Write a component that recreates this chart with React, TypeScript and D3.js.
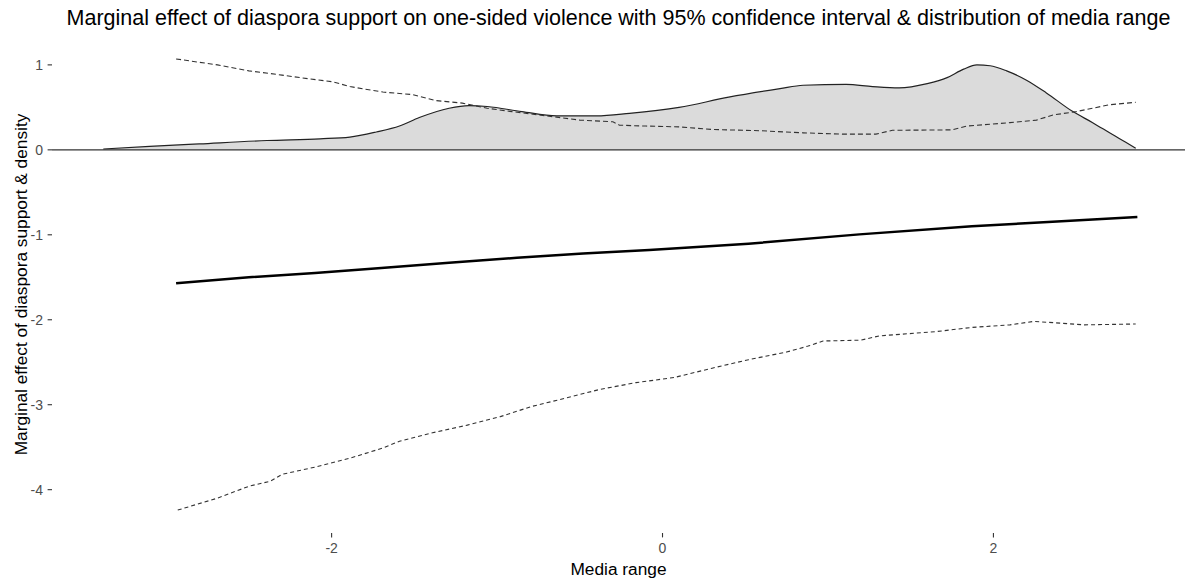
import React from "react";
import * as d3 from "d3";

// Density of media range (scaled so max = 1)
const densityX = [-3.38, -3.10, -2.80, -2.39, -2.07, -1.89, -1.73, -1.59, -1.47, -1.29, -1.17, -1.06, -0.85, -0.64, -0.40, -0.20, 0.10, 0.40, 0.71, 0.85, 1.11, 1.27, 1.43, 1.60, 1.72, 1.82, 1.90, 1.98, 2.08, 2.20, 2.32, 2.48, 2.60, 2.72, 2.80, 2.86];
const densityY = [0.01, 0.04, 0.07, 0.11, 0.13, 0.15, 0.21, 0.28, 0.38, 0.49, 0.52, 0.51, 0.45, 0.40, 0.40, 0.43, 0.50, 0.62, 0.72, 0.76, 0.77, 0.745, 0.73, 0.78, 0.85, 0.95, 1.0, 0.99, 0.93, 0.82, 0.67, 0.45, 0.32, 0.18, 0.09, 0.02];

// Marginal effect (mean)
const meanX = [-2.94, -2.50, -2.10, -1.70, -1.29, -0.88, -0.48, -0.08, 0.52, 1.19, 1.87, 2.33, 2.87];
const meanY = [-1.57, -1.50, -1.45, -1.39, -1.33, -1.27, -1.22, -1.18, -1.105, -0.995, -0.90, -0.85, -0.79];

// Upper 95% CI
const upperX = [-2.94, -2.69, -2.50, -2.30, -2.19, -1.99, -1.89, -1.69, -1.51, -1.37, -1.21, -1.06, -0.91, -0.64, -0.50, -0.30, -0.26, -0.10, 0.10, 0.30, 0.59, 0.85, 1.09, 1.29, 1.39, 1.75, 1.84, 2.10, 2.26, 2.36, 2.50, 2.70, 2.86];
const upperY = [1.07, 1.00, 0.93, 0.88, 0.85, 0.80, 0.745, 0.68, 0.65, 0.58, 0.55, 0.49, 0.45, 0.385, 0.35, 0.33, 0.29, 0.28, 0.27, 0.24, 0.225, 0.20, 0.185, 0.185, 0.23, 0.235, 0.28, 0.32, 0.35, 0.41, 0.45, 0.53, 0.56];

// Lower 95% CI
const lowerX = [-2.93, -2.69, -2.50, -2.37, -2.30, -2.09, -1.89, -1.69, -1.59, -1.39, -1.18, -0.98, -0.79, -0.58, -0.38, -0.16, 0.07, 0.30, 0.52, 0.75, 0.88, 0.97, 1.20, 1.31, 1.65, 1.87, 2.10, 2.24, 2.33, 2.55, 2.86];
const lowerY = [-4.24, -4.10, -3.96, -3.90, -3.82, -3.73, -3.63, -3.51, -3.43, -3.33, -3.24, -3.14, -3.02, -2.92, -2.82, -2.74, -2.68, -2.57, -2.47, -2.38, -2.31, -2.25, -2.24, -2.19, -2.14, -2.09, -2.06, -2.02, -2.03, -2.06, -2.05];

const xTicks = [-2, 0, 2];
const yTicks = [1, 0, -1, -2, -3, -4];

const title = "Marginal effect of diaspora support on one-sided violence with 95% confidence interval & distribution of media range";
const xTitle = "Media range";
const yTitle = "Marginal effect of diaspora support & density";

const W = 1185;
const H = 584;
const panel = { left: 52, right: 1187, top: 36, bottom: 533 };

export default function App() {
  const x = d3.scaleLinear().domain([-3.69, 3.17]).range([panel.left, panel.right]);
  const y = d3.scaleLinear().domain([-4.51, 1.34]).range([panel.bottom, panel.top]);

  const zip = (xs: number[], ys: number[]) => xs.map((v, i) => [v, ys[i]] as [number, number]);
  const line = d3.line<[number, number]>().x((d) => x(d[0])).y((d) => y(d[1])).curve(d3.curveMonotoneX);
  const lineLin = d3.line<[number, number]>().x((d) => x(d[0])).y((d) => y(d[1]));
  const area = d3
    .area<[number, number]>()
    .x((d) => x(d[0]))
    .y0(y(0))
    .y1((d) => y(d[1]))
    .curve(d3.curveMonotoneX);

  const dens = zip(densityX, densityY);
  const font = "'Liberation Sans', Arial, sans-serif";
  const fmt = (t: number) => (t < 0 ? "-" + Math.abs(t) : String(t));

  return (
    <svg width={W} height={H} style={{ position: "absolute", left: 0, top: 0, background: "#fff" }} fontFamily={font}>
      <rect x={0} y={0} width={W} height={H} fill="#fff" />
      <path d={area(dens) || ""} fill="#dbdbdb" />
      <path d={line(dens) || ""} fill="none" stroke="#222" strokeWidth={1.2} />
      <line x1={panel.left} x2={W} y1={y(0)} y2={y(0)} stroke="#333" strokeWidth={1.2} />
      <path d={lineLin(zip(upperX, upperY)) || ""} fill="none" stroke="#333" strokeWidth={1.1} strokeDasharray="5,3" />
      <path d={lineLin(zip(lowerX, lowerY)) || ""} fill="none" stroke="#333" strokeWidth={1.1} strokeDasharray="4,3" />
      <path d={lineLin(zip(meanX, meanY)) || ""} fill="none" stroke="#000" strokeWidth={2.5} />

      {yTicks.map((t) => (
        <g key={"y" + t}>
          <line x1={panel.left - 4.4} x2={panel.left} y1={y(t)} y2={y(t)} stroke="#333" strokeWidth={1.1} />
          <text x={panel.left - 9} y={y(t)} dy="0.36em" textAnchor="end" fontSize={14} fill="#4d4d4d">
            {fmt(t)}
          </text>
        </g>
      ))}
      {xTicks.map((t) => (
        <g key={"x" + t}>
          <line x1={x(t)} x2={x(t)} y1={panel.bottom} y2={panel.bottom + 4.4} stroke="#333" strokeWidth={1.1} />
          <text x={x(t)} y={553} textAnchor="middle" fontSize={14} fill="#4d4d4d">
            {fmt(t)}
          </text>
        </g>
      ))}
      <text x={(panel.left + W) / 2} y={575} textAnchor="middle" fontSize={17.3} fill="#000">
        {xTitle}
      </text>
      <text
        transform={`translate(${26.5}, ${(panel.top + panel.bottom) / 2}) rotate(-90)`}
        textAnchor="middle"
        fontSize={17.3}
        fill="#000"
      >
        {yTitle}
      </text>
      <text x={(panel.left + W) / 2} y={25} textAnchor="middle" fontSize={21.5} fill="#000">
        {title}
      </text>
    </svg>
  );
}
